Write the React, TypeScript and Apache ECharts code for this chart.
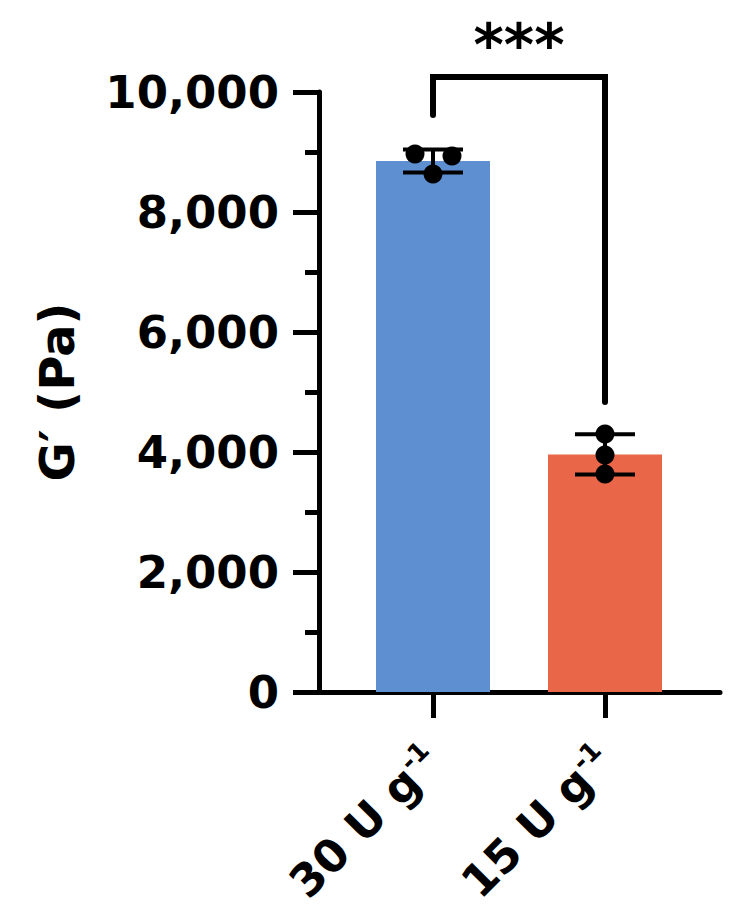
import React, { useEffect, useRef } from "react";
import * as echarts from "echarts";

// ---- data ----
const CATEGORIES = ["30 U g", "15 U g"];
const CATEGORY_SUP = "-1";
const MEANS = [8850, 3960];
const SDS = [190, 335];
const POINTS_30 = [8967, 8933, 8633];
const POINTS_15 = [4300, 3950, 3633];
const Y_TICKS_MAX = 10000;
const Y_INTERVAL = 2000;
const Y_TITLE = "G′ (Pa)";
const SIG_LABEL = "***";
const SIG_LEFT_END = 9617;
const SIG_RIGHT_END = 4833;
const SIG_TOP = 10250;

// ---- style ----
const COLORS = ["#5E8FD0", "#EA6649"];
const JITTER_PX = [
  [-18, 19, 0],
  [0, 0, 0],
];
const FONT = "DejaVu Sans";

function fmt(v: number): string {
  return String(v).replace(/\B(?=(\d{3})+(?!\d))/g, ",");
}

export default function App() {
  const ref = useRef<HTMLDivElement>(null);

  useEffect(() => {
    if (!ref.current) return;
    const chart = echarts.init(ref.current, undefined, { renderer: "svg" });

    const pointGroups = [POINTS_30, POINTS_15];
    const scatterData: any[] = [];
    pointGroups.forEach((pts, ci) => {
      pts.forEach((v, pi) => {
        scatterData.push({
          value: [ci, v],
          symbolOffset: [JITTER_PX[ci][pi], 0],
        });
      });
    });

    const option: any = {
      animation: false,
      backgroundColor: "#ffffff",
      grid: [
        { left: 319, right: 30, top: 92, bottom: 225 },
        { left: 347, right: 59, top: 92, bottom: 225 },
      ],
      xAxis: [
        {
          gridIndex: 0,
          type: "value",
          min: 0,
          max: 1,
          axisLine: { show: true, lineStyle: { color: "#000", width: 5 } },
          axisTick: { show: false },
          axisLabel: { show: false },
          splitLine: { show: false },
        },
        {
          gridIndex: 1,
          type: "category",
          data: CATEGORIES,
          axisLine: { show: false },
          axisTick: {
            show: true,
            alignWithLabel: true,
            length: 26,
            lineStyle: { color: "#000", width: 5 },
          },
          axisLabel: {
            rotate: 45,
            margin: 62,
            interval: 0,
            formatter: (v: string) => `{m|${v}}{s|${CATEGORY_SUP}}`,
            rich: {
              m: {
                fontFamily: FONT,
                fontWeight: "bold",
                fontSize: 45,
                lineHeight: 50,
                color: "#000",
              },
              s: {
                fontFamily: FONT,
                fontWeight: "bold",
                fontSize: 26,
                lineHeight: 28,
                verticalAlign: "top",
                color: "#000",
              },
            },
          },
        },
      ],
      yAxis: [
        {
          gridIndex: 0,
          type: "value",
          min: 0,
          max: Y_TICKS_MAX,
          interval: Y_INTERVAL,
          name: Y_TITLE,
          nameLocation: "middle",
          nameGap: 238,
          nameTextStyle: {
            fontFamily: FONT,
            fontWeight: "bold",
            fontSize: 48,
            color: "#000",
          },
          axisLine: { show: true, lineStyle: { color: "#000", width: 5 } },
          axisTick: { show: true, length: 26, lineStyle: { color: "#000", width: 5 } },
          minorTick: {
            show: true,
            splitNumber: 2,
            length: 14,
            lineStyle: { color: "#000", width: 5 },
          },
          axisLabel: {
            margin: 40,
            fontFamily: FONT,
            fontWeight: "bold",
            fontSize: 45,
            color: "#000",
            formatter: (v: number) => fmt(v),
          },
          splitLine: { show: false },
          minorSplitLine: { show: false },
        },
        {
          gridIndex: 1,
          type: "value",
          min: 0,
          max: Y_TICKS_MAX,
          interval: Y_INTERVAL,
          show: false,
          splitLine: { show: false },
        },
      ],
      series: [
        {
          type: "bar",
          xAxisIndex: 1,
          yAxisIndex: 1,
          barWidth: 114,
          data: MEANS.map((m, i) => ({ value: m, itemStyle: { color: COLORS[i] } })),
          z: 1,
        },
        {
          type: "custom",
          xAxisIndex: 1,
          yAxisIndex: 1,
          z: 3,
          data: MEANS.map((m, i) => [i, m, SDS[i]]),
          renderItem: (params: any, api: any) => {
            const i = api.value(0);
            const m = api.value(1);
            const sd = api.value(2);
            const top = api.coord([i, m + sd]);
            const bot = api.coord([i, m - sd]);
            const half = 30;
            const style = { stroke: "#000", lineWidth: 4 };
            return {
              type: "group",
              children: [
                { type: "line", shape: { x1: top[0], y1: top[1], x2: bot[0], y2: bot[1] }, style },
                { type: "line", shape: { x1: top[0] - half, y1: top[1], x2: top[0] + half, y2: top[1] }, style },
                { type: "line", shape: { x1: bot[0] - half, y1: bot[1], x2: bot[0] + half, y2: bot[1] }, style },
              ],
            };
          },
        },
        {
          type: "scatter",
          xAxisIndex: 1,
          yAxisIndex: 1,
          symbol: "circle",
          symbolSize: 19,
          itemStyle: { color: "#000", opacity: 1 },
          z: 4,
          data: scatterData,
        },
        {
          type: "custom",
          xAxisIndex: 1,
          yAxisIndex: 1,
          z: 5,
          clip: false,
          data: [[0, 1]],
          renderItem: (params: any, api: any) => {
            const a = api.value(0);
            const b = api.value(1);
            const pL = api.coord([a, SIG_LEFT_END]);
            const pLT = api.coord([a, SIG_TOP]);
            const pRT = api.coord([b, SIG_TOP]);
            const pR = api.coord([b, SIG_RIGHT_END]);
            return {
              type: "group",
              children: [
                {
                  type: "polyline",
                  shape: { points: [pL, pLT, pRT, pR] },
                  style: {
                    stroke: "#000",
                    lineWidth: 6,
                    fill: null,
                    lineJoin: "miter",
                    lineCap: "round",
                  },
                },
                {
                  type: "text",
                  x: (pLT[0] + pRT[0]) / 2,
                  y: pLT[1] - 32,
                  style: {
                    text: SIG_LABEL,
                    fontFamily: FONT,
                    fontWeight: "bold",
                    fontSize: 58,
                    fill: "#000",
                    textAlign: "center",
                    textVerticalAlign: "middle",
                  },
                },
              ],
            };
          },
        },
      ],
    };

    chart.setOption(option);
    return () => chart.dispose();
  }, []);

  return (
    <div
      ref={ref}
      style={{ position: "absolute", left: 0, top: 0, width: 750, height: 917 }}
    />
  );
}
